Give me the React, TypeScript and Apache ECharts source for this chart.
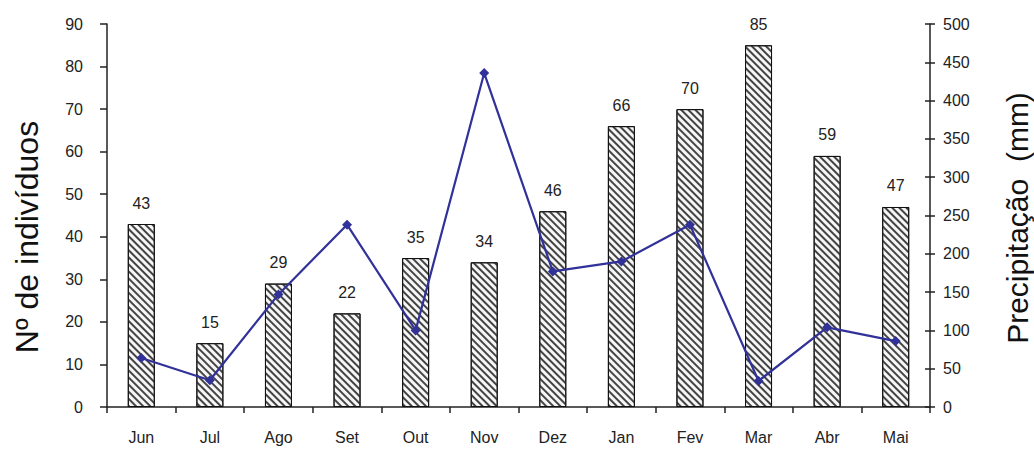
import React, { useEffect, useRef } from "react";
import * as echarts from "echarts";

const months = ["Jun", "Jul", "Ago", "Set", "Out", "Nov", "Dez", "Jan", "Fev", "Mar", "Abr", "Mai"];
const individuals = [43, 15, 29, 22, 35, 34, 46, 66, 70, 85, 59, 47];
const precipitation = [64, 35, 147, 238, 100, 436, 177, 190, 238, 34, 104, 86];
const leftTitle = "Nº de indivíduos";
const rightTitle = "Precipitação  (mm)";

export default function App() {
  const ref = useRef<HTMLDivElement>(null);
  useEffect(() => {
    if (!ref.current) return;
    const chart = echarts.init(ref.current, null, { renderer: "svg" });
    const font = "Liberation Sans, Arial, sans-serif";
    const axisColor = "#222";
    chart.setOption({
      animation: false,
      backgroundColor: "#fff",
      textStyle: { fontFamily: font },
      grid: { left: 107, right: 104, top: 24, bottom: 42, containLabel: false },
      xAxis: {
        type: "category",
        data: months,
        axisLine: { lineStyle: { color: axisColor, width: 1.5 } },
        axisTick: { show: true, length: 6, lineStyle: { color: axisColor, width: 1.5 } },
        axisLabel: { color: "#222", fontSize: 16, margin: 22, fontFamily: font },
      },
      yAxis: [
        {
          type: "value",
          min: 0,
          max: 90,
          interval: 10,
          position: "left",
          axisLine: { show: true, lineStyle: { color: axisColor, width: 1.5 } },
          axisTick: { show: true, length: 7, lineStyle: { color: axisColor, width: 1.5 } },
          axisLabel: { color: "#222", fontSize: 16, margin: 24, fontFamily: font },
          splitLine: { show: false },
        },
        {
          type: "value",
          min: 0,
          max: 500,
          interval: 50,
          position: "right",
          axisLine: { show: true, lineStyle: { color: axisColor, width: 1.5 } },
          axisTick: { show: true, length: 5, lineStyle: { color: axisColor, width: 1.5 } },
          axisLabel: { color: "#222", fontSize: 16, margin: 13, fontFamily: font },
          splitLine: { show: false },
        },
        {
          type: "value",
          min: 0,
          max: 500,
          interval: 50,
          position: "right",
          axisLine: { show: false },
          axisTick: { show: true, inside: true, length: 5, lineStyle: { color: axisColor, width: 1.5 } },
          axisLabel: { show: false },
          splitLine: { show: false },
        },
      ],
      graphic: [
        {
          type: "text",
          x: 27,
          y: 237,
          rotation: Math.PI / 2,
          style: {
            text: leftTitle,
            fontSize: 32,
            fontFamily: font,
            fill: "#111",
            align: "center",
            verticalAlign: "middle",
          },
        },
        {
          type: "text",
          x: 1017,
          y: 218,
          rotation: Math.PI / 2,
          style: {
            text: rightTitle,
            fontSize: 30,
            fontFamily: font,
            fill: "#111",
            align: "center",
            verticalAlign: "middle",
          },
        },
      ],
      series: [
        {
          type: "bar",
          yAxisIndex: 0,
          data: individuals,
          barWidth: 27,
          itemStyle: {
            color: "#f6f6f6",
            borderColor: "#111",
            borderWidth: 1,
            decal: {
              symbol: "rect",
              symbolSize: 1,
              color: "#444",
              dashArrayX: [1, 0],
              dashArrayY: [1.1, 2.9],
              rotation: Math.PI / 4,
            },
          },
          label: {
            show: true,
            position: "top",
            distance: 13,
            fontSize: 16,
            color: "#222",
            fontFamily: font,
          },
        },
        {
          type: "line",
          yAxisIndex: 1,
          data: precipitation,
          symbol: "diamond",
          symbolSize: 10,
          lineStyle: { color: "#31319a", width: 2.2 },
          itemStyle: { color: "#31319a" },
          z: 5,
        },
      ],
    });
    return () => chart.dispose();
  }, []);
  return <div ref={ref} style={{ position: "fixed", left: 0, top: 0, width: 1034, height: 449 }} />;
}
